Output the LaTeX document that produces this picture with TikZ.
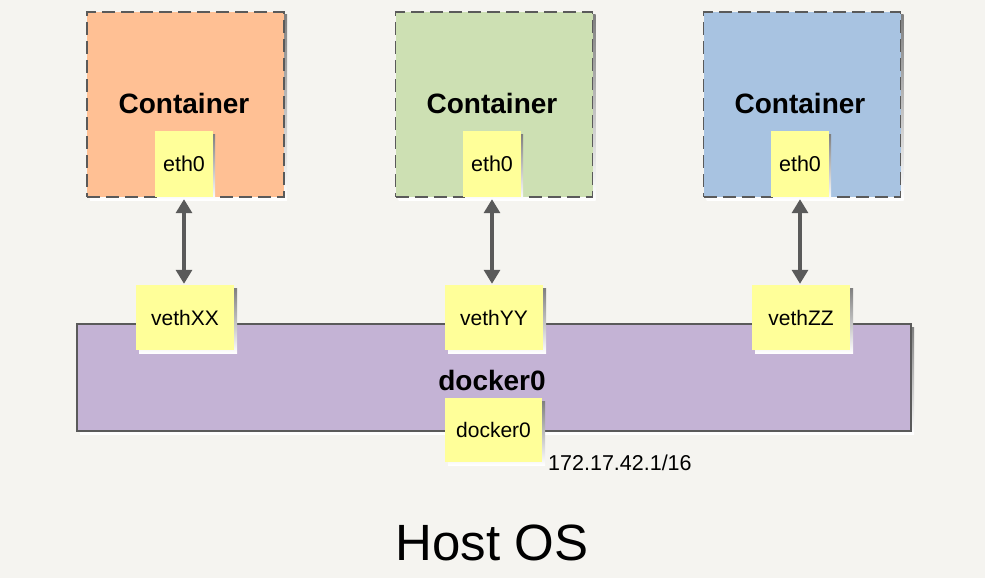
\documentclass[tikz,border=0pt]{standalone}
\usepackage{fontspec}
\setmainfont{Liberation Sans}
\usetikzlibrary{arrows.meta}
\definecolor{bg}{HTML}{F5F4F0}
\definecolor{corange}{HTML}{FFC094}
\definecolor{cgreen}{HTML}{CDE0B3}
\definecolor{cblue}{HTML}{A8C3E1}
\definecolor{cpurple}{HTML}{C4B3D5}
\definecolor{cyellow}{HTML}{FFFF99}
\definecolor{edge}{HTML}{5A5A5A}
\definecolor{shade}{HTML}{E0DFDB}
\tikzset{
  x=1pt,y=-1pt,
  container/.style={draw=edge,dash pattern=on 13pt off 6pt,line width=1.8pt,minimum width=197pt,minimum height=185pt,inner sep=0pt},
  iface/.style={fill=cyellow,minimum width=58pt,minimum height=66pt,inner sep=0pt,font=\fontsize{21.5}{24}\selectfont},
  veth/.style={fill=cyellow,minimum width=98pt,minimum height=65pt,inner sep=0pt,font=\fontsize{21}{24}\selectfont},
  ctitle/.style={font=\bfseries\fontsize{28}{32}\selectfont},
  link/.style={draw=edge,line width=3.2pt,{Triangle[length=14pt,width=16pt]}-{Triangle[length=14pt,width=16pt]}},
}
\begin{document}
\begin{tikzpicture}
\fill[bg] (0,0) rectangle (985,578);
\useasboundingbox (0,0) rectangle (985,578);
% docker0 bar
\fill[shade] (80,327) rectangle (914,434);
\node[draw=edge,line width=1.5pt,fill=cpurple,minimum width=834pt,minimum height=107pt,inner sep=0pt] (bar) at (494,377.5) {};
\node[ctitle] (barlbl) at (492,380) {docker0};
% containers
\foreach \n/\cx/\col in {a/185.5/corange,b/494/cgreen,c/802/cblue}{
  \fill[shade] (\cx-95.5,15) rectangle (\cx+101.5,200);
  \node[container,fill=\col] (c\n) at (\cx,104.5) {};
}
\node[ctitle] (ta) at (184,103) {Container};
\node[ctitle] (tb) at (492,103) {Container};
\node[ctitle] (tc) at (800,103) {Container};
% eth0
\foreach \n/\cx in {a/184,b/492,c/800}{
  \fill[shade] (\cx-27,134) rectangle (\cx+31,199);
}
\node[iface] (ea) at (184,164) {eth0};
\node[iface] (eb) at (492,164) {eth0};
\node[iface] (ec) at (800,164) {eth0};
% veth
\foreach \cx in {185,494,801}{
  \fill[shade] (\cx-46,288) rectangle (\cx+52,353);
}
\node[veth] (va) at (185,317.5) {vethXX};
\node[veth] (vb) at (494,317.5) {vethYY};
\node[veth] (vc) at (801,317.5) {vethZZ};
% docker0 iface
\fill[shade] (448,401) rectangle (545,465);
\node[veth,minimum width=97pt,minimum height=64pt] (d0) at (493.5,430) {docker0};
\node[anchor=west,font=\fontsize{21.5}{24}\selectfont,inner sep=0pt] (ip) at (548,463) {172.17.42.1/16};
% links
\draw[link,shorten <=2pt,shorten >=1pt] (ea.south) -- (ea.south |- va.north);
\draw[link,shorten <=2pt,shorten >=1pt] (eb.south) -- (eb.south |- vb.north);
\draw[link,shorten <=2pt,shorten >=1pt] (ec.south) -- (ec.south |- vc.north);
% Host OS
\node[font=\fontsize{51}{60}\selectfont] (host) at (492,543) {Host OS};
\end{tikzpicture}
\end{document}
